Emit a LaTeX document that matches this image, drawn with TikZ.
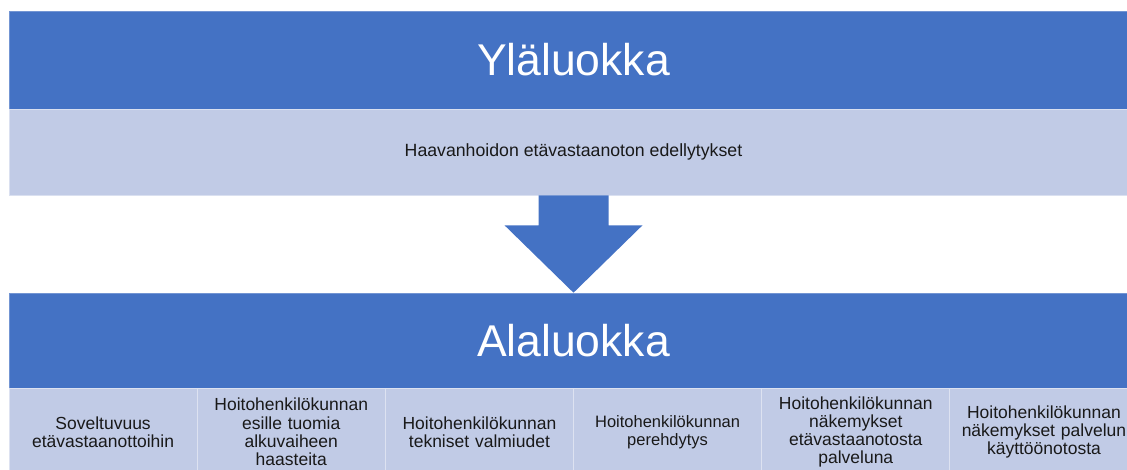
\documentclass[tikz,border=0pt]{standalone}
\usepackage{fontspec}
\setmainfont{Liberation Sans}
\usetikzlibrary{calc}

\definecolor{bandblue}{RGB}{68,114,196}
\definecolor{bandlight}{RGB}{193,203,230}
\definecolor{celltext}{RGB}{25,25,25}

\tikzset{
  band/.style={rectangle, fill=bandblue, draw=bandblue!75!white, line width=0.6pt,
    inner sep=0pt, minimum width=1129pt, text=white, font=\fontsize{44.5}{50}\selectfont},
  subband/.style={rectangle, fill=bandlight, draw=bandlight!60!white, line width=0.6pt,
    inner sep=0pt, minimum width=1129pt, minimum height=86pt, text=celltext,
    font=\fontsize{17.7}{20}\selectfont},
  cell/.style={rectangle, fill=bandlight, draw=bandlight!55!white, line width=0.8pt,
    inner sep=0pt, minimum width=188.17pt, minimum height=88pt, text=celltext,
    align=center, text width=184pt}
}

\begin{document}
\begin{tikzpicture}[x=1pt, y=-1pt]
  \useasboundingbox (0,0) rectangle (1127,470);
  \clip (0,0) rectangle (1127,470);

  % Upper category
  \node[band, minimum height=98pt] (yla) at (573.5,60) {Yläluokka};
  \node[subband] (sub) at (573.5,152) {Haavanhoidon etävastaanoton edellytykset};

  % Lower category
  \node[band, minimum height=95pt] (ala) at (573.5,340.5) {Alaluokka};

  % Block arrow
  \fill[bandblue] ($(sub.south)+(-35,0)$) -- ($(sub.south)+(35,0)$)
    -- ($(sub.south)+(35,30)$) -- ($(sub.south)+(69,30)$) -- (ala.north)
    -- ($(sub.south)+(-69,30)$) -- ($(sub.south)+(-35,30)$) -- cycle;

  % Subcategory cells
  \foreach \txt/\fs [count=\i] in {
      {Soveltuvuus\\etävastaanottoihin}/17.5,
      {Hoitohenkilökunnan\\esille tuomia\\alkuvaiheen\\haasteita}/17.5,
      {Hoitohenkilökunnan\\tekniset valmiudet}/17.5,
      {Hoitohenkilökunnan\\perehdytys}/16.5,
      {Hoitohenkilökunnan\\näkemykset\\etävastaanotosta\\palveluna}/17.5,
      {Hoitohenkilökunnan\\näkemykset palvelun\\käyttöönotosta}/17.5}
      \node[cell, font=\fontsize{\fs}{18.3}\selectfont] (cell-\i) at ({9+(\i-0.5)*188.17},432) {\txt};
\end{tikzpicture}
\end{document}
